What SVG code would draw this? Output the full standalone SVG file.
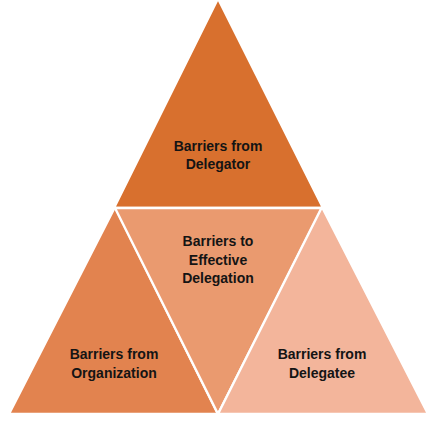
<svg xmlns="http://www.w3.org/2000/svg" width="431" height="423" viewBox="0 0 431 423">
<style>
.tri{stroke:#ffffff;stroke-width:2.4;stroke-linejoin:miter}
.lbl{font-family:"Liberation Sans",Arial,sans-serif;font-weight:bold;font-size:14px;fill:#141414;text-anchor:middle}
</style>
<rect width="431" height="423" fill="#ffffff"/>
<g id="top">
<polygon class="tri" fill="#D8702E" points="218,-1.5 323,208 114,208"/>
<text class="lbl" x="218" y="151">Barriers from</text>
<text class="lbl" x="218" y="169">Delegator</text>
</g>
<g id="left">
<polygon class="tri" fill="#E2834F" points="115,207 218,414 9,414"/>
<text class="lbl" x="114" y="359">Barriers from</text>
<text class="lbl" x="114" y="378">Organization</text>
</g>
<g id="middle">
<polygon class="tri" fill="#EA9A6F" points="115,208 322,208 218,414"/>
<text class="lbl" x="218" y="246">Barriers to</text>
<text class="lbl" x="218" y="265">Effective</text>
<text class="lbl" x="218" y="283">Delegation</text>
</g>
<g id="right">
<polygon class="tri" fill="#F3B59B" points="322,207 428,414 218,414"/>
<text class="lbl" x="322" y="359">Barriers from</text>
<text class="lbl" x="322" y="378">Delegatee</text>
</g>
<g id="connectors"></g>
</svg>
